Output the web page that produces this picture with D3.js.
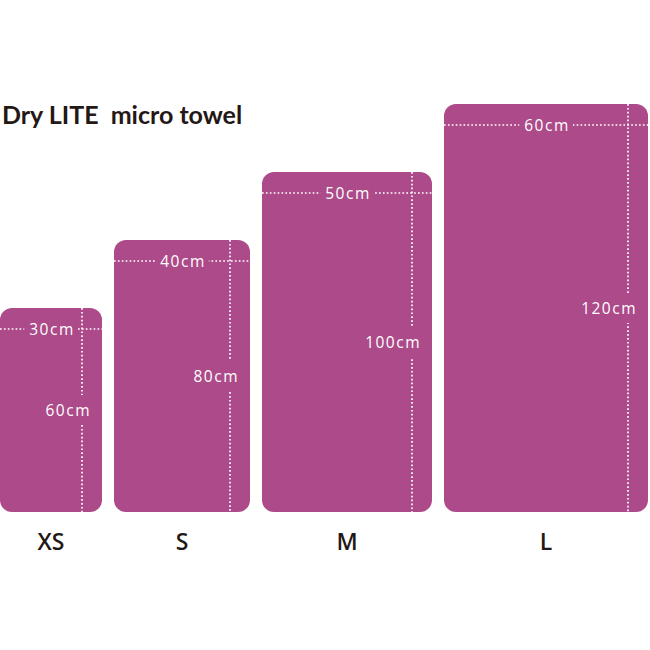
<!DOCTYPE html>
<html>
<head>
<meta charset="utf-8">
<script src="https://cdn.jsdelivr.net/npm/d3@7"></script>
<style>
  body { margin: 0; background: #fff; }
</style>
</head>
<body>
<div id="chart"></div>
<script>
const sizes = ["XS", "S", "M", "L"];
const widths = [30, 40, 50, 60];     // cm
const lengths = [60, 80, 100, 120];  // cm
const title = "Dry LITE\u00a0\u00a0micro towel";

const fill = "#ad4a89";
const ink = "#231815";

const svg = d3.select("#chart").append("svg")
  .attr("width", 650)
  .attr("height", 650);

// cm -> px
const scale = d3.scaleLinear().domain([0, 1]).range([0, 3.4]);
const gap = 12;
const baseY = 512;

// left edge of each towel
let acc = 0;
const lefts = widths.map(function(w, i) {
  const x = scale(acc) + i * gap;
  acc += w;
  return x;
});

const data = sizes.map(function(s, i) {
  return { size: s, w: widths[i], h: lengths[i], x: lefts[i] };
});

svg.append("text")
  .attr("x", 2)
  .attr("y", 124)
  .attr("font-family", "Lato, sans-serif")
  .attr("font-weight", "bold")
  .attr("font-size", 25)
  .attr("fill", ink)
  .text(title);

const towel = svg.selectAll(".towel")
  .data(data)
  .enter().append("g")
  .attr("class", "towel")
  .attr("transform", function(d) {
    return "translate(" + d.x + "," + (baseY - scale(d.h)) + ")";
  });

towel.append("rect")
  .attr("width", function(d) { return scale(d.w); })
  .attr("height", function(d) { return scale(d.h); })
  .attr("rx", 12)
  .attr("fill", fill);

// dotted measure lines
towel.append("line")
  .attr("x1", 0)
  .attr("x2", function(d) { return scale(d.w); })
  .attr("y1", 21)
  .attr("y2", 21);

towel.append("line")
  .attr("x1", function(d) { return scale(d.w) - 20; })
  .attr("x2", function(d) { return scale(d.w) - 20; })
  .attr("y1", 0)
  .attr("y2", function(d) { return scale(d.h); });

towel.selectAll("line")
  .attr("stroke", "#fff")
  .attr("stroke-width", 1.7)
  .attr("stroke-dasharray", "1.7,2.2");

function label(sel) {
  sel.attr("font-family", "'Open Sans', sans-serif")
    .attr("font-size", 15.5)
    .attr("font-weight", 500)
    .attr("letter-spacing", 1.5)
    .attr("fill", "#fff")
    .attr("dominant-baseline", "central");
}

// width label
const wLab = towel.append("text")
  .attr("x", function(d) { return scale(d.w) / 2 + 1; })
  .attr("y", 21)
  .attr("text-anchor", "middle")
  .text(function(d) { return d.w + "cm"; })
  .call(label);

// length label
const hLab = towel.append("text")
  .attr("x", function(d) { return scale(d.w) - 11; })
  .attr("y", function(d) { return scale(d.h) / 2; })
  .attr("text-anchor", "end")
  .text(function(d) { return d.h + "cm"; })
  .call(label);

// knock out the dotted line behind labels
wLab.each(function() {
  const b = this.getBBox();
  d3.select(this.parentNode).insert("rect", "text")
    .attr("x", b.x - 5).attr("y", b.y)
    .attr("width", b.width + 8).attr("height", b.height)
    .attr("fill", fill);
});
hLab.each(function() {
  const b = this.getBBox();
  d3.select(this.parentNode).insert("rect", "text")
    .attr("x", b.x).attr("y", b.y - 4)
    .attr("width", b.width).attr("height", b.height + 8)
    .attr("fill", fill);
});

// size names
svg.selectAll(".size")
  .data(data)
  .enter().append("text")
  .attr("class", "size")
  .attr("x", function(d) { return d.x + scale(d.w) / 2; })
  .attr("y", 550)
  .attr("text-anchor", "middle")
  .attr("font-family", "'Open Sans', sans-serif")
  .attr("font-weight", 600)
  .attr("font-size", 23)
  .attr("fill", ink)
  .text(function(d) { return d.size; });
</script>
</body>
</html>
